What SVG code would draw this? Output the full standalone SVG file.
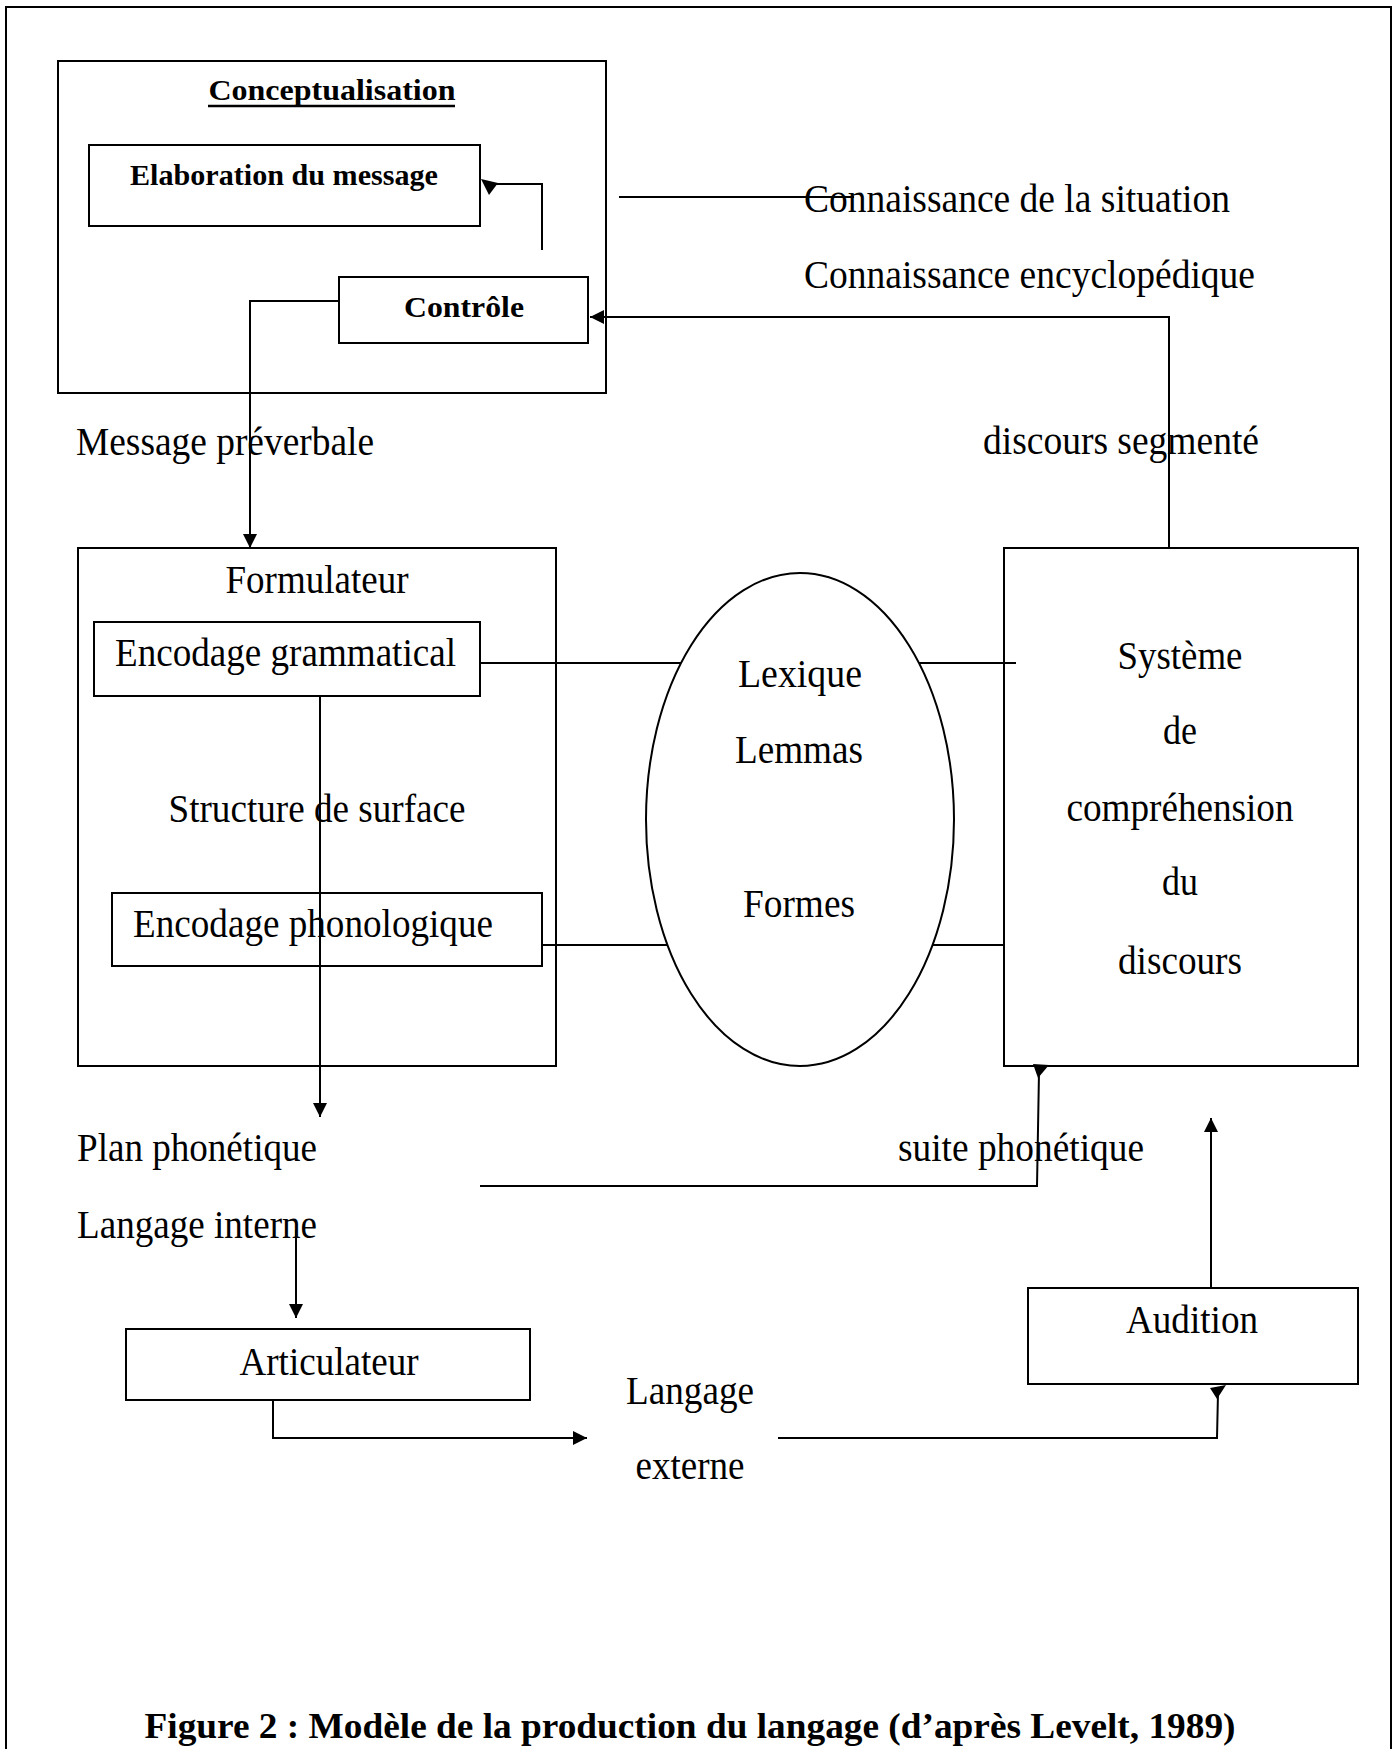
<svg xmlns="http://www.w3.org/2000/svg" width="1397" height="1749" viewBox="0 0 1397 1749">
<defs>
<style>
.box{fill:none;stroke:#000;stroke-width:2}
.ln{fill:none;stroke:#000;stroke-width:2}
.t{font-family:"Liberation Serif","Times New Roman",serif;font-size:39px;fill:#000}
.b{font-family:"Liberation Serif","Times New Roman",serif;font-size:30px;font-weight:bold;fill:#000}
.c{font-family:"Liberation Serif","Times New Roman",serif;font-size:35px;font-weight:bold;fill:#000}
.ah{fill:#000;stroke:none}
</style>
<marker id="arr" viewBox="0 0 10 10" refX="10" refY="5" markerUnits="userSpaceOnUse" markerWidth="14" markerHeight="14" orient="auto">
<path d="M0,0 L10,5 L0,10 z" fill="#000"/>
</marker>
</defs>
<rect width="1397" height="1749" fill="#fff"/>
<path d="M6,1749 V7 H1391 V1749" fill="none" stroke="#000" stroke-width="2"/>

<g id="conceptualisation">
<rect class="box" x="58" y="61" width="548" height="332"/>
<text class="b" x="332" y="100" text-anchor="middle" textLength="247" lengthAdjust="spacingAndGlyphs">Conceptualisation</text>
<line x1="208" y1="106" x2="455" y2="106" stroke="#000" stroke-width="2.5"/>
</g>
<g id="elaboration">
<rect class="box" x="89" y="145" width="391" height="81"/>
<text class="b" x="284" y="185" text-anchor="middle" textLength="308" lengthAdjust="spacingAndGlyphs">Elaboration du message</text>
</g>
<g id="controle">
<rect class="box" x="339" y="277" width="249" height="66"/>
<text class="b" x="464" y="317" text-anchor="middle" textLength="120" lengthAdjust="spacingAndGlyphs">Contrôle</text>
</g>
<g id="labels-top">
<text class="t" x="804" y="212" textLength="426" lengthAdjust="spacingAndGlyphs">Connaissance de la situation</text>
<text class="t" x="804" y="288" textLength="451" lengthAdjust="spacingAndGlyphs">Connaissance encyclopédique</text>
<text class="t" x="76" y="455" textLength="298" lengthAdjust="spacingAndGlyphs">Message préverbale</text>
<text class="t" x="983" y="454" textLength="276" lengthAdjust="spacingAndGlyphs">discours segmenté</text>
</g>
<g id="formulateur">
<rect class="box" x="78" y="548" width="478" height="518"/>
<text class="t" x="317" y="593" text-anchor="middle" textLength="183" lengthAdjust="spacingAndGlyphs">Formulateur</text>
<text class="t" x="317" y="822" text-anchor="middle" textLength="297" lengthAdjust="spacingAndGlyphs">Structure de surface</text>
</g>
<g id="encodage-grammatical">
<rect class="box" x="94" y="622" width="386" height="74"/>
<text class="t" x="115" y="666" textLength="341" lengthAdjust="spacingAndGlyphs">Encodage grammatical</text>
</g>
<g id="encodage-phonologique">
<rect class="box" x="112" y="893" width="430" height="73"/>
<text class="t" x="133" y="937" textLength="360" lengthAdjust="spacingAndGlyphs">Encodage phonologique</text>
</g>
<g id="lexique">
<ellipse class="box" cx="800" cy="819.5" rx="154" ry="246.5"/>
<text class="t" x="800" y="687" text-anchor="middle" textLength="124" lengthAdjust="spacingAndGlyphs">Lexique</text>
<text class="t" x="799" y="763" text-anchor="middle" textLength="128" lengthAdjust="spacingAndGlyphs">Lemmas</text>
<text class="t" x="799" y="917" text-anchor="middle" textLength="112" lengthAdjust="spacingAndGlyphs">Formes</text>
</g>
<g id="systeme">
<rect class="box" x="1004" y="548" width="354" height="518"/>
<text class="t" x="1180" y="669" text-anchor="middle" textLength="125" lengthAdjust="spacingAndGlyphs">Système</text>
<text class="t" x="1180" y="744" text-anchor="middle" textLength="34" lengthAdjust="spacingAndGlyphs">de</text>
<text class="t" x="1180" y="821" text-anchor="middle" textLength="227" lengthAdjust="spacingAndGlyphs">compréhension</text>
<text class="t" x="1180" y="895" text-anchor="middle" textLength="36" lengthAdjust="spacingAndGlyphs">du</text>
<text class="t" x="1180" y="974" text-anchor="middle" textLength="124" lengthAdjust="spacingAndGlyphs">discours</text>
</g>
<g id="labels-bottom">
<text class="t" x="77" y="1161" textLength="240" lengthAdjust="spacingAndGlyphs">Plan phonétique</text>
<text class="t" x="77" y="1238" textLength="240" lengthAdjust="spacingAndGlyphs">Langage interne</text>
<text class="t" x="898" y="1161" textLength="246" lengthAdjust="spacingAndGlyphs">suite phonétique</text>
<text class="t" x="690" y="1404" text-anchor="middle" textLength="128" lengthAdjust="spacingAndGlyphs">Langage</text>
<text class="t" x="690" y="1479" text-anchor="middle" textLength="109" lengthAdjust="spacingAndGlyphs">externe</text>
</g>
<g id="articulateur">
<rect class="box" x="126" y="1329" width="404" height="71"/>
<text class="t" x="329" y="1375" text-anchor="middle" textLength="179" lengthAdjust="spacingAndGlyphs">Articulateur</text>
</g>
<g id="audition">
<rect class="box" x="1028" y="1288" width="330" height="96"/>
<text class="t" x="1192" y="1333" text-anchor="middle" textLength="132" lengthAdjust="spacingAndGlyphs">Audition</text>
</g>

<g id="connectors">
<polyline class="ln" points="542,250 542,184 490,184"/>
<polygon class="ah" points="481,179 498,183 489,195"/>
<line class="ln" x1="619" y1="197" x2="854" y2="197"/>
<polyline class="ln" points="1169,548 1169,317 590,317" marker-end="url(#arr)"/>
<polyline class="ln" points="339,301 250,301 250,548" marker-end="url(#arr)"/>
<line class="ln" x1="480" y1="663" x2="681" y2="663"/>
<line class="ln" x1="919" y1="663" x2="1016" y2="663"/>
<line class="ln" x1="542" y1="945" x2="667" y2="945"/>
<line class="ln" x1="933" y1="945" x2="1004" y2="945"/>
<line class="ln" x1="320" y1="696" x2="320" y2="1117" marker-end="url(#arr)"/>
<polyline class="ln" points="480,1186 1037,1186 1039,1072"/>
<polygon class="ah" points="1033,1064 1049,1065 1038,1078"/>
<line class="ln" x1="296" y1="1230" x2="296" y2="1318" marker-end="url(#arr)"/>
<polyline class="ln" points="273,1400 273,1438 587,1438" marker-end="url(#arr)"/>
<polyline class="ln" points="778,1438 1217,1438 1218,1393"/>
<polygon class="ah" points="1210,1388 1226,1385 1217,1399"/>
<line class="ln" x1="1211" y1="1288" x2="1211" y2="1118" marker-end="url(#arr)"/>
</g>

<g id="caption">
<text class="c" x="690" y="1738" text-anchor="middle" textLength="1091" lengthAdjust="spacingAndGlyphs">Figure 2 : Modèle de la production du langage (d’après Levelt, 1989)</text>
</g>
</svg>
